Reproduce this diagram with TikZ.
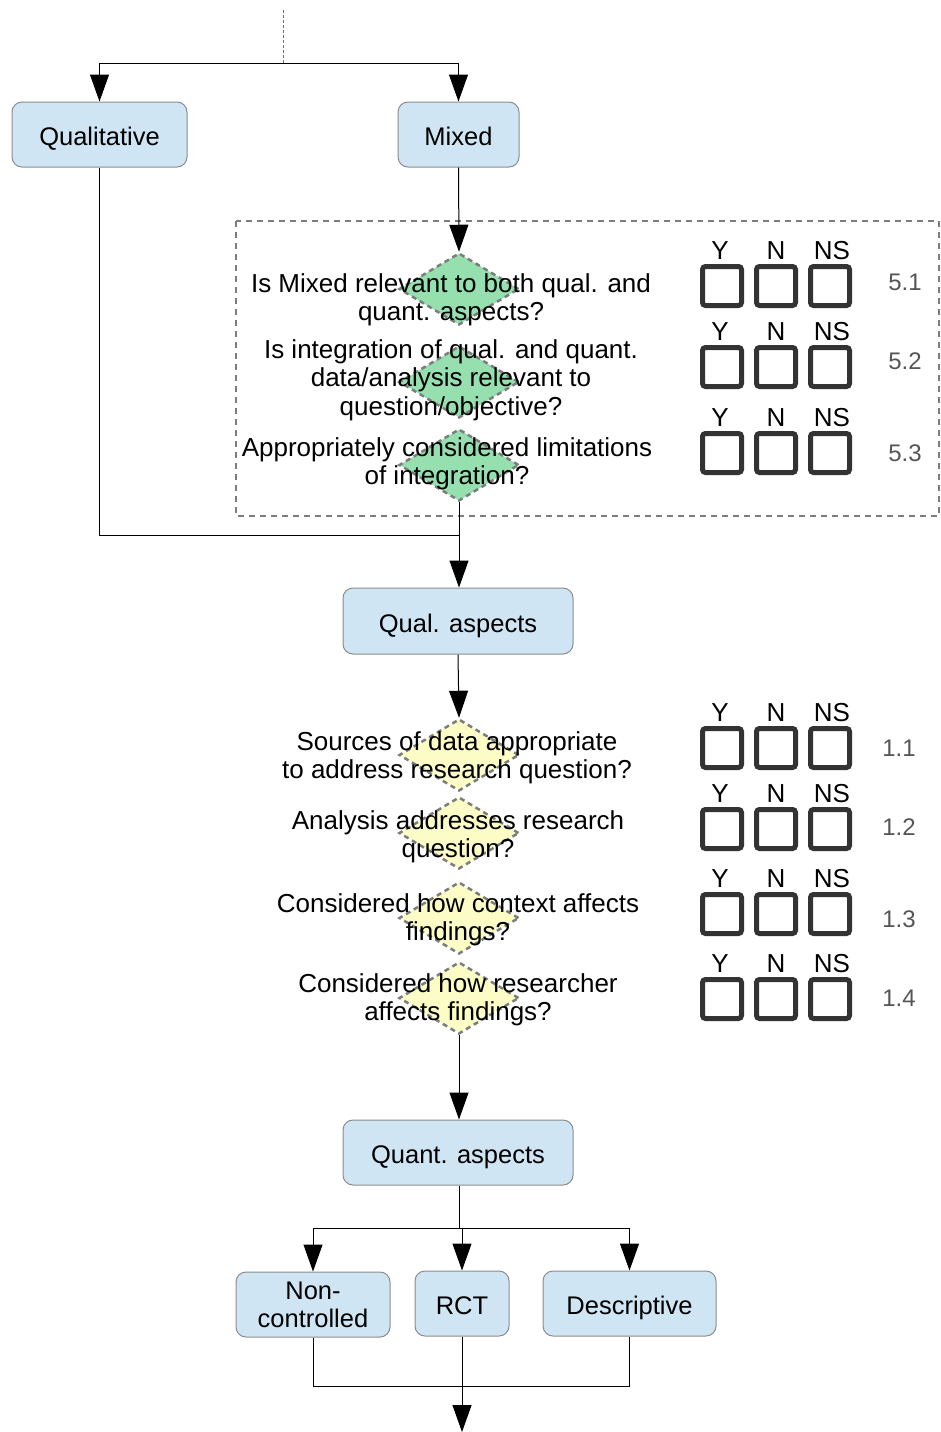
\documentclass[tikz,border=0pt]{standalone}
\usepackage{fontspec}
\setmainfont{Liberation Sans}
\usetikzlibrary{shapes.geometric,arrows.meta}
\definecolor{boxfill}{RGB}{207,229,243}
\definecolor{boxline}{RGB}{140,140,140}
\definecolor{dgreen}{RGB}{150,224,176}
\definecolor{dyellow}{RGB}{252,252,198}
\definecolor{dline}{RGB}{125,125,125}
\definecolor{cbline}{RGB}{51,51,51}
\definecolor{numcol}{RGB}{85,85,85}
\tikzset{
  bluebox/.style={draw=boxline,line width=1pt,fill=boxfill,rounded corners=10pt,
    inner sep=0pt,align=center,font=\fontsize{25.5}{28}\selectfont},
  oneline/.style={text height=22pt,text depth=0pt},
  qdiam/.style={diamond,draw=dline,line width=2.5pt,dash pattern=on 5pt off 4pt,
    minimum width=120pt,minimum height=72pt,inner sep=0pt},
  gdiam/.style={qdiam,fill=dgreen},
  ydiam/.style={qdiam,fill=dyellow},
  qtext/.style={align=center,inner sep=0pt,font=\fontsize{26}{28.5}\selectfont},
  cbox/.style={draw=cbline,line width=5pt,rounded corners=3pt,minimum size=39pt,inner sep=0pt},
  yn/.style={inner sep=0pt,font=\fontsize{26}{28}\selectfont},
  rownum/.style={inner sep=0pt,text=numcol,font=\fontsize{24}{28}\selectfont},
  conn/.style={line width=1pt,draw=black},
  arr/.style={conn,-{Triangle[length=27pt,width=19pt]}},
}
\newcommand{\cbrow}[2]{% name, y-center
  \node[cbox] (#1a) at (722,#2) {};
  \node[cbox] (#1b) at (776,#2) {};
  \node[cbox] (#1c) at (830,#2) {};
  \node[yn] (#1y) at (720,#2-35) {Y};
  \node[yn] (#1n) at (776,#2-35) {N};
  \node[yn] (#1s) at (832,#2-35) {NS};
}
\begin{document}
\begin{tikzpicture}[x=1pt,y=-1pt]
\useasboundingbox (0,0) rectangle (941,1432);

% top boxes
\node[bluebox,oneline,minimum width=175pt,minimum height=65pt] (qualitative) at (99.5,134.5) {Qualitative};
\node[bluebox,oneline,minimum width=121pt,minimum height=65pt] (mixed) at (458.5,134.5) {Mixed};

\coordinate (topin) at (283,10);
\coordinate (split1) at (283,63);
\draw[line width=0.8pt,draw=black!55,dash pattern=on 3pt off 2pt] (topin) -- (split1);
\draw[arr] (split1) -| (qualitative.north);
\draw[arr] (split1) -| (mixed.north);

% mixed section
\draw[draw=dline,line width=2pt,dash pattern=on 6pt off 5pt] (236,221) rectangle (939,516);

\node[gdiam] (g1) at (459,289) {};
\node[gdiam] (g2) at (459,382) {};
\node[gdiam] (g3) at (459,465) {};
\draw[arr] (mixed.south) -- (g1.north);

\node[qtext] (t51) at (451,300) {Is Mixed relevant to both qual. and\\quant. aspects?};
\node[qtext] (t52) at (451,380) {Is integration of qual. and quant.\\data/analysis relevant to\\question/objective?};
\node[qtext] (t53) at (447,464) {Appropriately considered limitations\\of integration?};

\cbrow{r51}{286}
\cbrow{r52}{367}
\cbrow{r53}{453}
\node[rownum] (n51) at (905,282) {5.1};
\node[rownum] (n52) at (905,361) {5.2};
\node[rownum] (n53) at (905,453) {5.3};

% qual aspects
\node[bluebox,oneline,minimum width=230pt,minimum height=66pt] (qa) at (458,621) {Qual. aspects};
\coordinate (join1) at (459,535);
\draw[conn] (qualitative.south) |- (join1);
\draw[arr] (g3.south) -- (g3.south |- qa.north);

\node[ydiam] (y1) at (459,755) {};
\node[ydiam] (y2) at (459,833) {};
\node[ydiam] (y3) at (459,918) {};
\node[ydiam] (y4) at (459,998) {};
\draw[arr] (qa.south) -- (y1.north);

\node[qtext] (t11) at (457,758) {Sources of data appropriate\\to address research question?};
\node[qtext] (t12) at (458,837) {Analysis addresses research\\question?};
\node[qtext] (t13) at (458,920) {Considered how context affects\\findings?};
\node[qtext] (t14) at (458,1000) {Considered how researcher\\affects findings?};

\cbrow{r11}{748}
\cbrow{r12}{829}
\cbrow{r13}{914}
\cbrow{r14}{999}
\node[rownum] (n11) at (899,748) {1.1};
\node[rownum] (n12) at (899,827) {1.2};
\node[rownum] (n13) at (899,919) {1.3};
\node[rownum] (n14) at (899,998) {1.4};

% quant aspects
\node[bluebox,oneline,minimum width=230pt,minimum height=65pt] (quant) at (458,1152.5) {Quant. aspects};
\draw[arr] (y4.south) -- (y4.south |- quant.north);

\node[bluebox,minimum width=154pt,minimum height=65pt] (nc) at (313,1304.5) {Non-\\controlled};
\node[bluebox,oneline,minimum width=94pt,minimum height=65pt] (rct) at (462,1303.5) {RCT};
\node[bluebox,oneline,minimum width=173pt,minimum height=65pt] (desc) at (629.5,1303.5) {Descriptive};

\coordinate (split2) at (459,1228);
\draw[conn] (quant.south -| split2) -- (split2);
\draw[arr] (split2) -| (nc.north);
\draw[arr] (split2) -| (rct.north);
\draw[arr] (split2) -| (desc.north);

\coordinate (join2) at (462,1386);
\coordinate (out) at (462,1432);
\draw[conn] (nc.south) |- (join2);
\draw[conn] (desc.south) |- (join2);
\draw[arr] (rct.south) -- (out);
\end{tikzpicture}
\end{document}
